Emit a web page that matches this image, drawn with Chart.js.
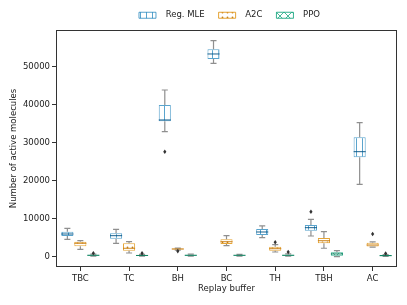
<!DOCTYPE html>
<html><head><meta charset="utf-8">
<script src="https://cdn.jsdelivr.net/npm/chart.js@4/dist/chart.umd.min.js"></script>
<style>html,body{margin:0;padding:0;background:#fff}</style>
</head><body>
<canvas id="c" width="407" height="305" style="width:407px;height:305px"></canvas>
<script>
const categories = ['TBC', 'TC', 'BH', 'BC', 'TH', 'TBH', 'AC'];
const seriesNames = ['Reg. MLE', 'A2C', 'PPO'];
const yTicks = [0, 10000, 20000, 30000, 40000, 50000];

// Reg. MLE
const regMin = [4650, 3600, 32920, 50890, 5080, 5520, 19100];
const regQ1  = [5520, 4800, 35650, 52020, 5780, 6910, 26190];
const regMed = [6040, 5600, 36000, 53340, 6570, 7700, 27670];
const regQ3  = [6650, 6230, 39940, 54570, 7360, 8410, 31450];
const regMax = [7540, 7280, 43880, 56830, 8150, 9900, 35290];
const regOut = [[], [], [27670], [], [], [11900], []];

// A2C
const a2cMin = [2020, 1050, 1800, 2970, 1310, 2290, 2600];
const a2cQ1  = [2810, 1660, 1950, 3420, 1660, 3600, 2750];
const a2cMed = [3600, 2290, 2100, 4020, 2180, 4280, 3150];
const a2cQ3  = [4020, 3600, 2250, 4650, 2710, 4990, 3760];
const a2cMax = [4280, 4020, 2350, 5600, 3230, 6650, 3950];
const a2cOut = [[], [], [1550], [], [3860], [], [6040]];

// PPO
const ppoMin = [250, 200, 250, 250, 200, 100, 150];
const ppoQ1  = [350, 300, 350, 350, 350, 350, 250];
const ppoMed = [450, 400, 450, 450, 450, 800, 350];
const ppoQ3  = [600, 550, 600, 550, 600, 1230, 500];
const ppoMax = [750, 700, 750, 700, 800, 1660, 650];
const ppoOut = [[1000], [950], [], [], [1300], [], [900]];

const stats = [
  {min: regMin, q1: regQ1, med: regMed, q3: regQ3, max: regMax, out: regOut},
  {min: a2cMin, q1: a2cQ1, med: a2cMed, q3: a2cQ3, max: a2cMax, out: a2cOut},
  {min: ppoMin, q1: ppoQ1, med: ppoMed, q3: ppoQ3, max: ppoMax, out: ppoOut}
];

const edgeColors = ['rgba(1,115,178,0.65)', 'rgba(222,143,5,0.8)', 'rgba(2,158,115,0.8)'];
const medColors = ['rgba(1,80,130,0.9)', 'rgba(200,120,5,0.9)', 'rgba(2,120,85,0.9)'];
const hatchColors = ['rgba(1,115,178,0.65)', 'rgba(190,115,5,0.9)', 'rgba(2,158,115,0.8)'];
const hatchKinds = ['|', '.', 'x'];

function makePattern(kind, color) {
  const c = document.createElement('canvas');
  const ctx = c.getContext('2d');
  if (kind === '|') {
    c.width = 6; c.height = 6;
    ctx.fillStyle = '#fff'; ctx.fillRect(0, 0, 6, 6);
    ctx.fillStyle = color; ctx.fillRect(2, 0, 1, 6);
  } else if (kind === '.') {
    c.width = 5; c.height = 5;
    ctx.fillStyle = '#fff'; ctx.fillRect(0, 0, 5, 5);
    ctx.fillStyle = color; ctx.beginPath(); ctx.arc(2.5, 2.5, 0.9, 0, Math.PI * 2); ctx.fill();
  } else {
    c.width = 8; c.height = 8;
    ctx.fillStyle = '#fff'; ctx.fillRect(0, 0, 8, 8);
    ctx.strokeStyle = color; ctx.lineWidth = 0.9;
    ctx.beginPath(); ctx.moveTo(0, 0); ctx.lineTo(8, 8); ctx.moveTo(8, 0); ctx.lineTo(0, 8); ctx.stroke();
  }
  const main = document.getElementById('c').getContext('2d');
  return main.createPattern(c, 'repeat');
}

const datasets = stats.map((s, d) => ({
  label: '  ' + seriesNames[d],
  data: categories.map((_, i) => [s.q1[i], s.q3[i]]),
  backgroundColor: makePattern(hatchKinds[d], hatchColors[d]),
  borderColor: edgeColors[d],
  borderWidth: 1,
  borderSkipped: false,
  categoryPercentage: 0.8,
  barPercentage: 0.93
}));

const legendShift = {
  id: 'legendShift',
  afterLayout(chart) {
    const lg = chart.legend;
    if (lg) { lg.left += 31; lg.right += 31; lg.top -= 3; lg.bottom -= 3; }
  }
};

const boxPlugin = {
  id: 'boxParts',
  afterDatasetsDraw(chart) {
    const ctx = chart.ctx;
    const ys = chart.scales.y;
    ctx.save();
    stats.forEach((s, d) => {
      const meta = chart.getDatasetMeta(d);
      meta.data.forEach((el, i) => {
        const x = el.x, w = el.width;
        const yMin = ys.getPixelForValue(s.min[i]);
        const yQ1 = ys.getPixelForValue(s.q1[i]);
        const yQ3 = ys.getPixelForValue(s.q3[i]);
        const yMax = ys.getPixelForValue(s.max[i]);
        const yMed = ys.getPixelForValue(s.med[i]);
        ctx.strokeStyle = '#8f8f8f';
        ctx.lineWidth = 1.2;
        ctx.beginPath();
        ctx.moveTo(x, yQ3); ctx.lineTo(x, yMax);
        ctx.moveTo(x, yQ1); ctx.lineTo(x, yMin);
        ctx.moveTo(x - w / 4, yMax); ctx.lineTo(x + w / 4, yMax);
        ctx.moveTo(x - w / 4, yMin); ctx.lineTo(x + w / 4, yMin);
        ctx.stroke();
        ctx.strokeStyle = medColors[d];
        ctx.lineWidth = 1;
        ctx.beginPath();
        ctx.moveTo(x - w / 2, yMed); ctx.lineTo(x + w / 2, yMed);
        ctx.stroke();
        ctx.fillStyle = '#333';
        s.out[i].forEach(v => {
          const yo = ys.getPixelForValue(v);
          ctx.beginPath();
          ctx.moveTo(x, yo - 2.3); ctx.lineTo(x + 1.6, yo); ctx.lineTo(x, yo + 2.3); ctx.lineTo(x - 1.6, yo);
          ctx.closePath(); ctx.fill();
        });
      });
    });
    const a = chart.chartArea;
    ctx.strokeStyle = '#333';
    ctx.lineWidth = 1;
    ctx.strokeRect(Math.round(a.left) + 0.5, Math.round(a.top) + 0.5, Math.round(a.right - a.left) - 1, Math.round(a.bottom - a.top) - 1);
    ctx.restore();
  }
};

const font = {family: 'DejaVu Sans', size: 8.5};

new Chart(document.getElementById('c'), {
  type: 'bar',
  data: {labels: categories, datasets},
  plugins: [boxPlugin, legendShift],
  options: {
    responsive: false,
    devicePixelRatio: 1,
    animation: false,
    layout: {padding: {top: 0, right: 10, bottom: 0, left: 0}},
    plugins: {
      tooltip: {enabled: false},
      legend: {
        position: 'top',
        maxHeight: 30,
        labels: {font, color: '#222', boxWidth: 17, boxHeight: 6, padding: 14}
      }
    },
    scales: {
      x: {
        offset: true,
        grid: {display: true, drawOnChartArea: false, drawTicks: true, tickLength: 4, color: '#333', offset: false},
        border: {display: false},
        ticks: {font, color: '#222', padding: 3, maxRotation: 0},
        title: {display: true, text: 'Replay buffer', font, color: '#222', padding: {top: 11, bottom: 11}},
        afterFit(scale) { scale.height = 38; }
      },
      y: {
        min: -2630,
        max: 59640,
        afterBuildTicks(scale) { scale.ticks = yTicks.map(v => ({value: v})); },
        grid: {display: true, drawOnChartArea: false, drawTicks: true, tickLength: 4, color: '#333'},
        border: {display: false},
        ticks: {font, color: '#222', padding: 2, callback: v => String(v)},
        title: {display: true, text: 'Number of active molecules', font, color: '#222', padding: {top: 9, bottom: 9}},
        afterFit(scale) { scale.width = 56; }
      }
    }
  }
});
</script>
</body></html>
